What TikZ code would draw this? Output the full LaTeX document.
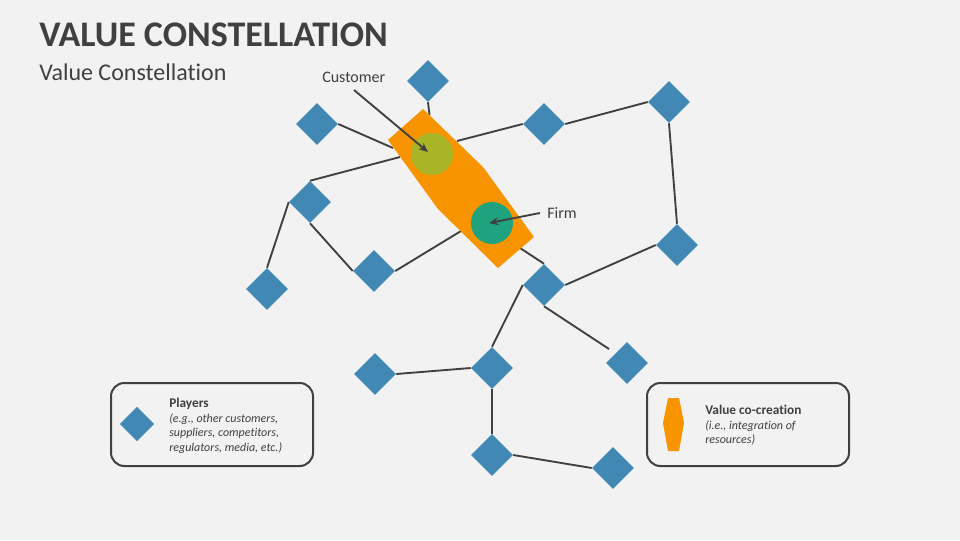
\documentclass[tikz,border=0pt]{standalone}
\usepackage{fontspec}
\setmainfont[Ligatures=NoCommon]{Carlito}
\usetikzlibrary{shapes.geometric,arrows.meta}
\definecolor{bgc}{HTML}{F2F2F2}
\definecolor{ink}{HTML}{404040}
\definecolor{blu}{HTML}{4189B4}
\definecolor{org}{HTML}{F79400}
\definecolor{lim}{HTML}{A9B526}
\definecolor{grn}{HTML}{1FA37F}
\tikzset{
  player/.style={diamond,fill=blu,inner sep=0pt,minimum width=31.5pt,minimum height=31.5pt,aspect=1},
  link/.style={draw=ink,line width=1.4pt},
  pointer/.style={draw=ink,line width=1.4pt,-{Stealth[length=7pt,width=6pt]}},
  legendbox/.style={draw=ink,line width=1.5pt,rounded corners=10pt,fill=bgc},
  txt/.style={text=ink,inner sep=0pt,anchor=base west},
}
\begin{document}
\begin{tikzpicture}[x=0.75pt,y=-0.75pt]
\path[use as bounding box,fill=bgc] (0,0) rectangle (960,540);
\node[txt,font=\bfseries\fontsize{27}{32}\selectfont] (title) at (39,46) {VALUE CONSTELLATION};
\node[txt,font=\fontsize{18}{22}\selectfont] (sub) at (39,80) {Value Constellation};
\foreach \n/\x/\y in {a/428/81,b/317/124,c/544/124,d/669/102,e/310/202,f/267/289,g/374/271,h/677/245,i/544/285,j/627/363,k/492/368,l/375/374,m/492/455,n/613/468}
  \node[player] (\n) at (\x,\y) {};
\coordinate (va) at (429.5,115);
\coordinate (vb) at (393,148);
\coordinate (vc) at (457,141);
\coordinate (ve) at (400,157);
\coordinate (vg) at (461,231);
\coordinate (vi) at (520,248);
\coordinate (jt) at (609,349);
\draw[link] (a.south) -- (va);
\draw[link] (b.east) -- (vb);
\draw[link] (c.west) -- (vc);
\draw[link] (c.east) -- (d.west);
\draw[link] (d.south) -- (h.north);
\draw[link] (e.north) -- (ve);
\draw[link] (e.west) -- (f.north);
\draw[link] (e.south) -- (g.west);
\draw[link] (g.east) -- (vg);
\draw[link] (i.north) -- (vi);
\draw[link] (i.east) -- (h.west);
\draw[link] (i.west) -- (k.north);
\draw[link] (i.south) -- (jt);
\draw[link] (k.west) -- (l.east);
\draw[link] (k.south) -- (m.north);
\draw[link] (m.east) -- (n.west);
\fill[org] (423,109) -- (483,167) -- (534,237) -- (498,268) -- (438,209) -- (388,140) -- cycle;
\node[circle,fill=lim,inner sep=0pt,minimum size=31.5pt] (cust) at (432,154) {};
\node[circle,fill=grn,inner sep=0pt,minimum size=31.5pt] (firm) at (492,223) {};
\node[txt,font=\fontsize{12}{14}\selectfont] (custl) at (322,82) {Customer};
\node[txt,font=\fontsize{12}{14}\selectfont] (firml) at (547,218) {Firm};
\coordinate (cs) at (354,90);
\coordinate (ct) at (428,152);
\coordinate (fs) at (540,213);
\coordinate (ft) at (489,223);
\draw[pointer] (cs) -- (ct);
\draw[pointer] (fs) -- (ft);
\draw[legendbox] (111,383) rectangle (313,466);
\draw[legendbox] (647,383) rectangle (849,466);
\node[diamond,fill=blu,inner sep=0pt,minimum width=26pt,minimum height=26pt,aspect=1] (lp) at (137,424) {};
\fill[org] (668,398) -- (679,398) -- (684,423) -- (679,451) -- (668,451) -- (663,423) -- cycle;
\node[txt,font=\bfseries\fontsize{10}{12}\selectfont] (p0) at (169,407) {Players};
\node[txt,font=\itshape\fontsize{9}{11}\selectfont] (p1) at (169,422) {(e.g., other customers,};
\node[txt,font=\itshape\fontsize{9}{11}\selectfont] (p2) at (169,436) {suppliers, competitors,};
\node[txt,font=\itshape\fontsize{9}{11}\selectfont] (p3) at (169,451) {regulators, media, etc.)};
\node[txt,font=\bfseries\fontsize{10}{12}\selectfont] (v0) at (705,414) {Value co-creation};
\node[txt,font=\itshape\fontsize{9}{11}\selectfont] (v1) at (705,429) {(i.e., integration of};
\node[txt,font=\itshape\fontsize{9}{11}\selectfont] (v2) at (705,443) {resources)};
\end{tikzpicture}
\end{document}
